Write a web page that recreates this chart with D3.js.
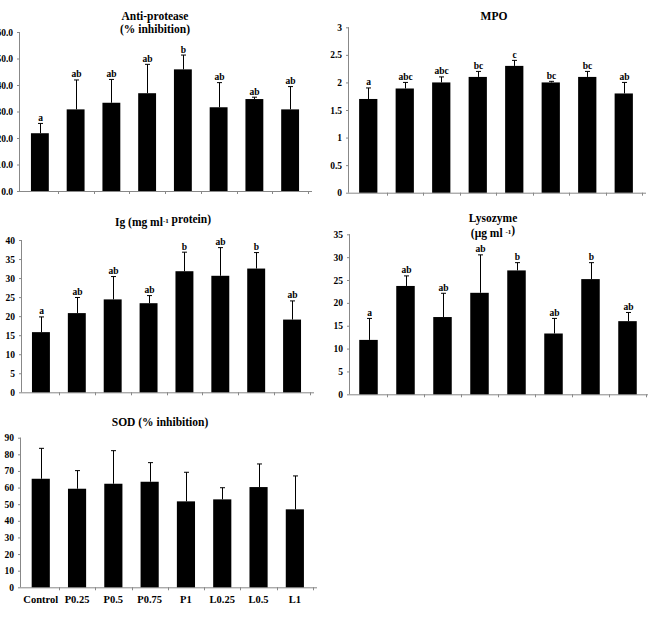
<!DOCTYPE html>
<html>
<head>
<meta charset="utf-8">
<script src="https://cdn.jsdelivr.net/npm/d3@7"></script>
<style>
  body { margin: 0; background: #fff; }
  svg text { font-family: "Liberation Serif", "Times New Roman", serif; font-weight: bold; fill: #000; }
</style>
</head>
<body>
<svg id="chart" width="648" height="625"></svg>
<script>
// Treatments (shared by every panel)
var groups = ["Control", "P0.25", "P0.5", "P0.75", "P1", "L0.25", "L0.5", "L1"];

// Anti-protease (% inhibition)
var antiMean = [21.8, 30.8, 33.3, 36.9, 45.9, 31.6, 34.7, 30.8];
var antiErr  = [3.7, 11.1, 8.8, 10.9, 5.4, 9.3, 0.7, 8.6];
var antiLetters = ["a", "ab", "ab", "ab", "b", "ab", "ab", "ab"];

// MPO
var mpoMean = [1.7, 1.89, 2.0, 2.1, 2.3, 2.0, 2.1, 1.8];
var mpoErr  = [0.2, 0.11, 0.1, 0.1, 0.1, 0.02, 0.1, 0.2];
var mpoLetters = ["a", "abc", "abc", "bc", "c", "bc", "bc", "ab"];

// Ig (mg ml-1 protein)
var igMean = [15.8, 20.8, 24.4, 23.4, 31.8, 30.6, 32.5, 19.1];
var igErr  = [4.0, 4.1, 6.0, 2.0, 5.0, 7.4, 4.2, 4.9];
var igLetters = ["a", "ab", "ab", "ab", "b", "ab", "b", "ab"];

// Lysozyme (ug ml-1)
var lysMean = [11.9, 23.7, 16.9, 22.2, 27.1, 13.3, 25.2, 16.0];
var lysErr  = [4.7, 2.2, 5.2, 8.3, 1.7, 3.3, 3.6, 1.9];
var lysLetters = ["a", "ab", "ab", "ab", "b", "ab", "b", "ab"];

// SOD (% inhibition)
var sodMean = [65.3, 59.3, 62.3, 63.5, 51.7, 52.9, 60.3, 46.9];
var sodErr  = [18.3, 10.9, 19.9, 11.5, 17.5, 7.0, 13.9, 20.1];

var svg = d3.select("#chart");

function drawPanel(p) {
    var x = d3.scaleBand()
        .domain(groups)
        .range([p.left, p.right])
        .paddingInner(0.5)
        .paddingOuter(0.25);

    var y = d3.scaleLinear()
        .domain([0, p.max])
        .range([p.bottom, p.top]);

    var g = svg.append("g");

    // y axis
    var yAxis = d3.axisLeft(y)
        .tickValues(d3.range(0, p.max + p.step / 2, p.step))
        .tickFormat(p.fmt)
        .tickSize(3)
        .tickPadding(4);
    var ya = g.append("g")
        .attr("transform", "translate(" + p.axisX + ",0)")
        .call(yAxis);
    ya.select(".domain").attr("stroke", "#888").attr("d", "M-0.5," + p.top + "V" + p.bottom);
    ya.selectAll(".tick line").attr("stroke", "#888");
    ya.selectAll(".tick text").attr("font-size", 9.5).style("font-family", "Liberation Serif").style("font-weight", "bold");

    // x axis: baseline with small ticks between bars
    g.append("line")
        .attr("x1", p.axisX).attr("x2", p.right + 4)
        .attr("y1", p.bottom + 0.5).attr("y2", p.bottom + 0.5)
        .attr("stroke", "#888");
    var step = x.step();
    var bounds = groups.slice(1).map(function(d){ return x(d) - (step - x.bandwidth()) / 2; });
    bounds.push(x(groups[groups.length - 1]) + x.bandwidth() + (step - x.bandwidth()) / 2);
    g.selectAll(".xt")
        .data(bounds)
        .enter().append("line")
        .attr("x1", function(d){ return Math.round(d) + 0.5; })
        .attr("x2", function(d){ return Math.round(d) + 0.5; })
        .attr("y1", p.bottom).attr("y2", p.bottom + 3)
        .attr("stroke", "#888");

    // bars
    g.selectAll(".bar")
        .data(p.mean)
        .enter().append("rect")
        .attr("x", function(d, i){ return x(groups[i]); })
        .attr("y", function(d){ return y(d); })
        .attr("width", x.bandwidth())
        .attr("height", function(d){ return p.bottom - y(d); })
        .attr("fill", "#000");

    // upper error bars
    p.mean.forEach(function(d, i) {
        var cx = Math.round(x(groups[i]) + x.bandwidth() / 2) + 0.5;
        var yt = y(d + p.err[i]);
        g.append("line")
            .attr("x1", cx).attr("x2", cx)
            .attr("y1", y(d)).attr("y2", yt)
            .attr("stroke", "#000").attr("stroke-width", 1);
        g.append("line")
            .attr("x1", cx - 2.5).attr("x2", cx + 2.5)
            .attr("y1", yt).attr("y2", yt)
            .attr("stroke", "#000").attr("stroke-width", 1);
        if (p.letters) {
            g.append("text")
                .attr("x", cx)
                .attr("y", yt - 2.5)
                .attr("text-anchor", "middle")
                .attr("font-size", 9.5)
                .text(p.letters[i]);
        }
    });

    // category labels only on the bottom panel
    if (p.showLabels) {
        g.selectAll(".xl")
            .data(groups)
            .enter().append("text")
            .attr("x", function(d){ return x(d) + x.bandwidth() / 2; })
            .attr("y", p.bottom + 16)
            .attr("text-anchor", "middle")
            .attr("font-size", 10.5)
            .text(function(d){ return d; });
    }

    // title lines
    p.title.forEach(function(line, k) {
        var t = g.append("text")
            .attr("x", p.titleX)
            .attr("y", p.titleY + k * (p.lineGap || 13.5))
            .attr("text-anchor", "middle")
            .attr("font-size", 11.5);
        line.forEach(function(part) {
            if (part.sup) {
                t.append("tspan").attr("dy", -3).attr("font-size", 7).text(part.t);
                t.append("tspan").attr("dy", 3).text("");
            } else {
                t.append("tspan").text(part.t);
            }
        });
    });
}

drawPanel({
    mean: antiMean, err: antiErr, letters: antiLetters,
    max: 60, step: 10, fmt: d3.format(".1f"),
    axisX: 20, left: 22, right: 308, top: 32, bottom: 191,
    title: [[{t: "Anti-protease"}], [{t: "(% inhibition)"}]], titleX: 155, titleY: 19.5
});

drawPanel({
    mean: mpoMean, err: mpoErr, letters: mpoLetters,
    max: 3, step: 0.5, fmt: function(d){ return String(d); },
    axisX: 349, left: 350, right: 642, top: 27.3, bottom: 192.7,
    title: [[{t: "MPO"}]], titleX: 494, titleY: 20
});

drawPanel({
    mean: igMean, err: igErr, letters: igLetters,
    max: 40, step: 5, fmt: function(d){ return String(d); },
    axisX: 22, left: 23, right: 310, top: 240, bottom: 392.3,
    title: [[{t: "Ig (mg ml"}, {t: "-1", sup: true}, {t: " protein)"}]], titleX: 163, titleY: 226
});

drawPanel({
    mean: lysMean, err: lysErr, letters: lysLetters,
    max: 35, step: 5, fmt: function(d){ return String(d); },
    axisX: 350, left: 350, right: 646, top: 234.3, bottom: 394.3,
    title: [[{t: "Lysozyme"}], [{t: "(\u03bcg ml "}, {t: "-1", sup: true}, {t: ")"}]],
    titleX: 493, titleY: 222, lineGap: 14.5
});

drawPanel({
    mean: sodMean, err: sodErr, letters: null, showLabels: true,
    max: 90, step: 10, fmt: function(d){ return String(d); },
    axisX: 21, left: 22.6, right: 313, top: 437.7, bottom: 587.3,
    title: [[{t: "SOD (% inhibition)"}]], titleX: 160, titleY: 426
});
</script>
</body>
</html>
